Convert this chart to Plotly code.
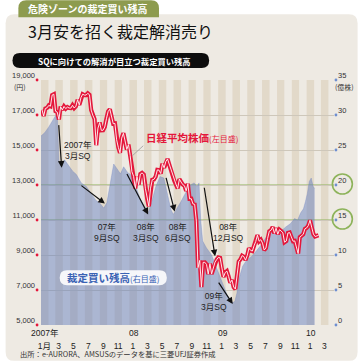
import pandas as pd
import plotly.graph_objects as go

# ---------------- data ----------------
# Nikkei 225 (yen), weekly (Fridays) from 2007-01-05
nikkei_2007 = [17300, 16942, 17370, 17409,
               17547, 17504, 18139, 18188,
               17217, 17164, 16744, 17480, 17288,
               17490, 17363, 17452, 17400,
               17394, 17553, 17399, 17500,
               17875, 17575, 18001, 18188, 18138,
               18140, 18238, 18157, 17283,
               16978, 16765, 15273, 16248, 16569,
               16122, 16127, 16313, 16786,
               17200, 17331, 16814, 16505,
               16518, 15583, 15154, 14837, 15680,
               15956, 15514, 15031, 15307]
nikkei_2008 = [14691, 13765, 13500, 12800,
               13497, 13017, 13626, 13688, 13603,
               12782, 12241, 11787, 12820,
               13293, 13323, 13476, 13863,
               13849, 13655, 14219, 13982, 14338,
               14489, 14183, 13943, 13544,
               13237, 13040, 12803, 13335,
               13168, 13021, 12956, 12666, 13073,
               12212, 12215, 11920, 11893,
               10938, 8276, 8693, 7162, 8577,
               8583, 8462, 7910, 8512,
               7917, 8235, 8588, 8739]
nikkei_2009 = [8860, 8836, 8230, 7745, 7994,
               8076, 7779, 7416, 7568,
               7173, 7054, 7946, 8627,
               8749, 8964, 8907, 8707,
               8977, 9385, 9265, 9225, 9522,
               9768, 10135, 9786, 9877,
               9680, 9287, 9395, 9944, 10356,
               10412, 10597, 10238, 10534,
               10187, 10444, 10370, 10265,
               9731, 9799, 10258, 10282, 10034,
               9789, 9804, 9497, 9081,
               10022, 10107, 10183, 10494]
nikkei_2010 = [10546, 10681, 10982, 10590, 10198,
               10057, 10092, 10123]
nikkei = nikkei_2007 + nikkei_2008 + nikkei_2009 + nikkei_2010
nikkei_dates = pd.date_range("2007-01-05", periods=len(nikkei), freq="W-FRI")

# Arbitrage buy balance (100 million shares)
arb_dates = ["2007-01-01", "2007-01-17", "2007-02-02", "2007-02-19", "2007-03-03", "2007-03-09",
             "2007-03-16", "2007-03-27", "2007-04-08", "2007-04-25", "2007-05-11", "2007-05-27",
             "2007-06-16", "2007-07-07", "2007-07-27", "2007-08-16", "2007-09-01", "2007-09-17",
             "2007-09-30", "2007-10-16", "2007-10-28", "2007-11-09", "2007-11-25", "2007-12-08",
             "2007-12-24", "2008-01-09", "2008-01-29", "2008-02-15", "2008-03-02", "2008-03-18",
             "2008-04-03", "2008-04-19", "2008-05-06", "2008-05-22", "2008-06-07", "2008-06-20",
             "2008-06-30", "2008-07-15", "2008-07-31", "2008-08-20", "2008-09-08", "2008-09-24",
             "2008-10-06", "2008-10-14", "2008-10-21", "2008-10-29", "2008-11-14", "2008-12-05",
             "2008-12-21", "2009-01-06", "2009-01-22", "2009-02-07", "2009-02-23", "2009-03-03",
             "2009-03-11", "2009-03-19", "2009-03-27", "2009-04-12", "2009-04-29", "2009-05-19",
             "2009-06-08", "2009-06-29", "2009-07-19", "2009-08-08", "2009-08-28", "2009-09-17",
             "2009-10-07", "2009-10-27", "2009-11-12", "2009-11-25", "2009-12-07", "2009-12-19",
             "2009-12-27", "2010-01-04", "2010-01-12", "2010-01-20", "2010-01-28", "2010-02-03"]
arb_values = [27.0, 27.5, 28.3, 29.2, 30.0, 30.3,
              23.5, 22.8, 23.6, 22.8, 22.0, 21.5,
              20.3, 19.8, 18.8, 17.8, 17.4, 16.7,
              17.5, 21.0, 23.0, 22.4, 21.6, 22.6,
              21.8, 21.4, 19.6, 18.0, 17.0, 16.0,
              17.8, 19.8, 21.2, 21.0, 18.5, 16.5,
              15.8, 16.6, 17.6, 18.9, 20.0, 20.3,
              19.8, 20.3, 15.0, 12.0, 11.0, 10.0,
              8.6, 7.0, 5.6, 4.3, 3.4, 3.2,
              3.4, 4.5, 6.5, 8.4, 9.3, 9.8,
              10.6, 11.5, 12.6, 13.4, 13.3, 13.4,
              14.0, 14.5, 15.2, 15.0, 16.0, 16.6,
              17.6, 18.8, 20.5, 21.0, 19.8, 19.5]

left_ticks = [5000, 7000, 9000, 11000, 13000, 15000, 17000, 19000]
left_labels = ["5,000", "7,000", "9,000", "11,000", "13,000", "15,000", "17,000", "19,000"]
right_ticks = [0, 5, 10, 15, 20, 25, 30, 35]
right_labels = ["0", "5", "10", "15", "20", "25", "30", "35"]
month_labels = ["1月", "3", "5", "7", "9", "11",
                "1", "3", "5", "7", "9", "11",
                "1", "3", "5", "7", "9", "11",
                "1", "3"]
year_labels = ["2007年", "08", "09", "10"]
year_dates = ["2007-01-17", "2008-01-20", "2009-01-20", "2010-01-20"]

sq_labels = ["2007年<br>3月SQ", "07年<br>9月SQ", "08年<br>3月SQ", "08年<br>6月SQ",
             "08年<br>12月SQ", "09年<br>3月SQ"]

# ---------------- geometry ----------------
W, H = 360, 363
L, R, T, B = 36, 26, 80, 37
PW, PH = W - L - R, H - T - B

def px(x):
    return (x - L) / PW

def py(y):
    return (H - B - y) / PH

def P(x, y):
    return f"{px(x):.5f},{py(y):.5f}"

def rrect(x0, y0, x1, y1, r, corners=(1, 1, 1, 1)):
    tl, tr, br, bl = [r if c else 0 for c in corners]
    d = f"M{P(x0 + tl, y0)} L{P(x1 - tr, y0)} "
    if tr:
        d += f"Q{P(x1, y0)} {P(x1, y0 + tr)} "
    d += f"L{P(x1, y1 - br)} "
    if br:
        d += f"Q{P(x1, y1)} {P(x1 - br, y1)} "
    d += f"L{P(x0 + bl, y1)} "
    if bl:
        d += f"Q{P(x0, y1)} {P(x0, y1 - bl)} "
    d += f"L{P(x0, y0 + tl)} "
    if tl:
        d += f"Q{P(x0, y0)} {P(x0 + tl, y0)} "
    return d + "Z"

RED = "#e4173b"
BLUE_TXT = "#3a62b4"
CARD = "#eeeae3"
STRIPE = "#e2d9c9"
GREEN = "#8db35a"
NUMFONT = "Liberation Sans, Noto Sans CJK JP"
JPFONT = "Noto Sans CJK JP"

fig = go.Figure()

fig.add_trace(go.Scatter(
    x=arb_dates, y=arb_values, yaxis="y", mode="lines", fill="tozeroy",
    line=dict(width=0.6, color="rgba(110,130,190,0.55)"),
    fillcolor="rgba(92,120,190,0.46)", hoverinfo="skip", showlegend=False))

fig.add_trace(go.Scatter(
    x=nikkei_dates, y=nikkei, yaxis="y2", mode="lines",
    line=dict(width=4.2, color=RED), hoverinfo="skip", showlegend=False))
fig.add_trace(go.Scatter(
    x=nikkei_dates, y=nikkei, yaxis="y2", mode="lines",
    line=dict(width=1.0, color="rgba(255,240,242,0.95)"), hoverinfo="skip", showlegend=False))

shapes = []
# card + tab
shapes.append(dict(type="path", xref="paper", yref="paper", path=rrect(0, 14, 358, 362, 9),
                   fillcolor=CARD, line=dict(width=0), layer="below"))
shapes.append(dict(type="path", xref="paper", yref="paper", path=rrect(13, 0, 156, 17, 8, (1, 1, 0, 0)),
                   fillcolor="#8d9b4e", line=dict(width=0), layer="below"))
shapes.append(dict(type="path", xref="paper", yref="paper", path=rrect(7, 53, 207, 68, 7.5),
                   fillcolor="#0d0d0d", line=dict(width=0), layer="below"))

# month stripes (odd months)
for start in pd.date_range("2007-01-01", "2010-03-01", freq="2MS"):
    end = start + pd.offsets.MonthBegin(1)
    shapes.append(dict(type="rect", xref="x", yref="paper", x0=start, x1=end, y0=0, y1=1,
                       fillcolor=STRIPE, line=dict(width=0), layer="below"))

# green reference lines
for v in (15, 20):
    shapes.append(dict(type="line", xref="paper", yref="y", x0=0, x1=1, y0=v, y1=v,
                       line=dict(color=GREEN, width=1.1), layer="between"))

# axis dots
for v in left_ticks:
    yv = (v - left_ticks[0]) / (left_ticks[-1] - left_ticks[0])
    shapes.append(dict(type="circle", xref="paper", yref="paper", xsizemode="pixel", ysizemode="pixel",
                       xanchor=px(32), yanchor=yv, x0=-1.4, x1=1.4, y0=-1.4, y1=1.4,
                       fillcolor=RED, line=dict(width=0)))
for v in right_ticks:
    yv = (v - right_ticks[0]) / (right_ticks[-1] - right_ticks[0])
    shapes.append(dict(type="circle", xref="paper", yref="paper", xsizemode="pixel", ysizemode="pixel",
                       xanchor=px(336), yanchor=yv, x0=-1.4, x1=1.4, y0=-1.4, y1=1.4,
                       fillcolor="#6f8fd0", line=dict(width=0)))
# green circles around 20 and 15
for v in (20, 15):
    yv = v / right_ticks[-1]
    shapes.append(dict(type="circle", xref="paper", yref="paper", xsizemode="pixel", ysizemode="pixel",
                       xanchor=px(342.5), yanchor=yv, x0=-10, x1=10, y0=-9, y1=11,
                       line=dict(color=GREEN, width=1.6), fillcolor="rgba(0,0,0,0)"))

# label pill for arbitrage balance
shapes.append(dict(type="path", xref="paper", yref="paper", path=rrect(55, 271, 164, 286, 7.5),
                   fillcolor="rgba(250,250,252,0.95)", line=dict(width=0), layer="above"))
# leader line for nikkei label
shapes.append(dict(type="line", xref="paper", yref="paper", x0=px(140), y0=py(146), x1=px(129), y1=py(156),
                   line=dict(color="#9a9a9a", width=0.8), layer="above"))

ann = []
def text(x, y, s, size=8, color="#222", xanchor="center", yanchor="middle", family=JPFONT, align="center"):
    ann.append(dict(xref="paper", yref="paper", x=px(x), y=py(y), text=s, showarrow=False,
                    xanchor=xanchor, yanchor=yanchor, align=align,
                    font=dict(size=size, color=color, family=family)))

text(84, 8, "<b>危険ゾーンの裁定買い残高</b>", size=10, color="white")
text(21, 31, "3月安を招く裁定解消売り", size=16, color="#111", xanchor="left")
text(111, 60.5, "<b>SQに向けての解消が目立つ裁定買い残高</b>", size=8.3, color="white")
text(15, 87, "(円)", size=7, color="#333")
text(345, 87, "(億株)", size=7, color="#333")
text(141, 138, f"<b>日経平均株価</b><span style='font-size:8px'>(左目盛)</span>", size=10.5, color=RED,
     xanchor="left")
text(109.5, 278.5, f"<b>裁定買い残高</b><span style='font-size:8px'>(右目盛)</span>", size=10.5,
     color=BLUE_TXT)
text(13, 355, "出所：e-AURORA、AMSUSのデータを基に三菱UFJ証券作成", size=7.3, color="#333", xanchor="left")

# year labels
for d, s in zip(year_dates, year_labels):
    ann.append(dict(xref="x", yref="paper", x=d, y=py(334), text=s, showarrow=False,
                    xanchor="center", yanchor="middle", font=dict(size=8.5, color="#222", family=NUMFONT)))

# SQ labels (pixel positions)
sq_pos = [(74, 151), (103, 233), (143, 233), (175, 233), (227, 233), (212, 302)]
for (x, y), s in zip(sq_pos, sq_labels):
    text(x, y, s, size=8.5, color="#222", family=NUMFONT)

# arrows: (tail_x, tail_y, tip_x, tip_y)
arrows = [(54, 124, 57, 168), (76, 185, 101, 204), (123, 173, 145, 215),
          (163, 177, 172, 212), (202, 187, 213, 257), (216, 282, 231, 305)]
for x0, y0, x1, y1 in arrows:
    ann.append(dict(xref="paper", yref="paper", x=px(x1), y=py(y1), ax=x0 - x1, ay=y0 - y1,
                    axref="pixel", ayref="pixel", text="", showarrow=True,
                    arrowhead=2, arrowsize=1.1, arrowwidth=1.2, arrowcolor="#111"))

month_ticks = list(pd.date_range("2007-01-01", "2010-03-01", freq="2MS") + pd.Timedelta(days=14))

fig.update_layout(
    width=W, height=H, margin=dict(l=L, r=R, t=T, b=B, pad=0),
    paper_bgcolor="white", plot_bgcolor="rgba(0,0,0,0)",
    font=dict(family=NUMFONT, size=8, color="#222"),
    showlegend=False, shapes=shapes, annotations=ann,
    xaxis=dict(type="date", range=["2007-01-01", "2010-04-24"], tickvals=month_ticks, ticktext=month_labels,
               showgrid=False, zeroline=False, showline=False, ticks="", ticklabelstandoff=14,
               tickfont=dict(size=8.5, color="#222", family=NUMFONT)),
    yaxis=dict(range=[0, 35], side="right", tickvals=right_ticks, ticktext=right_labels,
               showgrid=True, gridcolor="#cec7ba", gridwidth=1, zeroline=False, showline=False,
               ticks="", ticklabelstandoff=3, ticklabelshift=-5,
               tickfont=dict(size=7.5, color="#333", family=NUMFONT)),
    yaxis2=dict(range=[5000, 19000], side="left", overlaying="y", tickvals=left_ticks, ticktext=left_labels,
                showgrid=False, zeroline=False, showline=False, ticks="", ticklabelstandoff=5,
                ticklabelshift=-5, tickfont=dict(size=7.5, color="#333", family=NUMFONT)),
)

fig.write_html("out.html", config={"displayModeBar": False, "staticPlot": True},
               post_script="document.body.style.margin='0';document.body.style.padding='0';")
